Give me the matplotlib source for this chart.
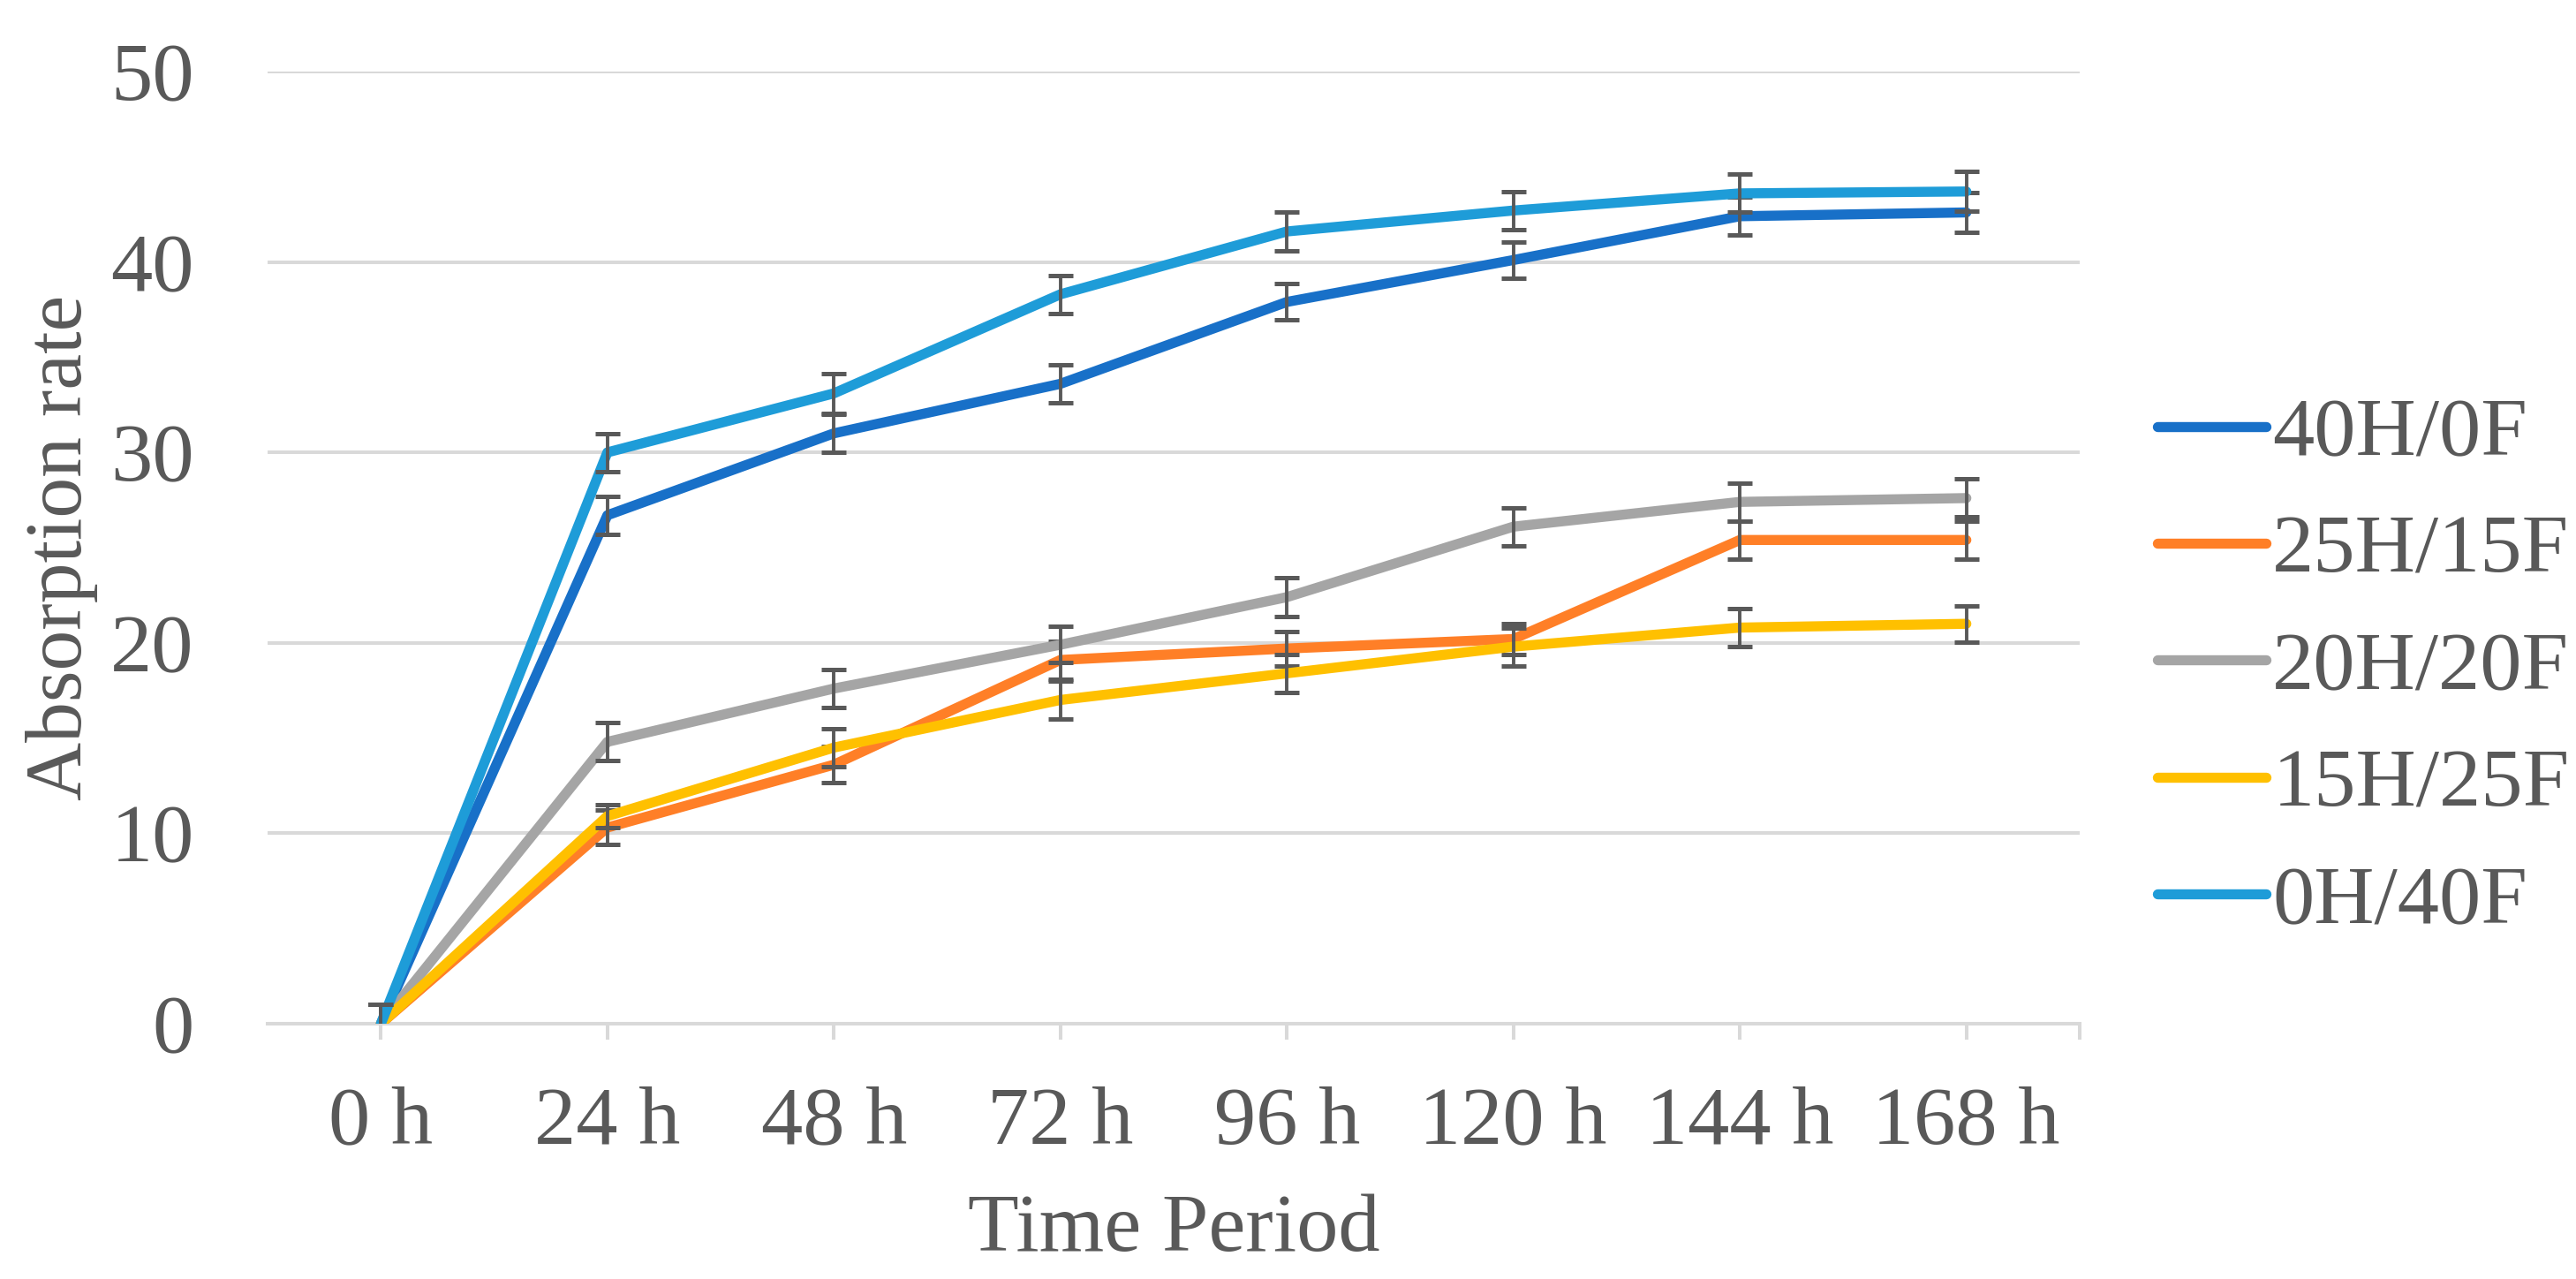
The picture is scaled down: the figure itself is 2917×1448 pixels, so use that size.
import numpy as np
import matplotlib
matplotlib.use("Agg")
import matplotlib.pyplot as plt

# time points and series
periods = ["0 h", "24 h", "48 h", "72 h", "96 h", "120 h", "144 h", "168 h"]

labels = ["40H/0F", "25H/15F", "20H/20F", "15H/25F", "0H/40F"]
colors = ["#1870C8", "#FF7F27", "#A5A5A5", "#FFC000", "#1E9CD8"]

h40_f0 = [0, 26.7, 31.0, 33.6, 37.9, 40.1, 42.4, 42.6]
h25_f15 = [0, 10.3, 13.6, 19.1, 19.7, 20.2, 25.4, 25.4]
h20_f20 = [0, 14.8, 17.6, 19.9, 22.4, 26.1, 27.4, 27.6]
h15_f25 = [0, 10.9, 14.5, 17.0, 18.4, 19.8, 20.8, 21.0]
h0_f40 = [0, 30.0, 33.1, 38.3, 41.6, 42.7, 43.6, 43.7]

err_h40_f0 = [1.0, 1.0, 1.0, 1.0, 0.95, 0.95, 1.0, 1.05]
err_h25_f15 = [1.0, 0.9, 0.95, 1.0, 0.9, 0.8, 1.0, 1.0]
err_h20_f20 = [1.0, 1.0, 1.0, 0.95, 1.0, 1.0, 1.0, 1.0]
err_h15_f25 = [1.0, 0.6, 1.0, 1.0, 1.0, 1.0, 1.0, 0.95]
err_h0_f40 = [1.0, 1.0, 1.05, 1.0, 1.0, 1.0, 1.0, 1.05]

series = [h40_f0, h25_f15, h20_f20, h15_f25, h0_f40]
errors = [err_h40_f0, err_h25_f15, err_h20_f20, err_h15_f25, err_h0_f40]

plt.rcParams["font.family"] = ["Liberation Serif", "DejaVu Serif"]
text_col = "#595959"
grid_col = "#D9D9D9"
fs = 34

fig = plt.figure(figsize=(14.585, 7.24), dpi=200)
ax = fig.add_axes([0.1039, 0.1996, 0.7034, 0.7445])

x = np.arange(len(periods))
for vals, err, lab, col in zip(series, errors, labels, colors):
    ax.plot(x, vals, color=col, lw=4.1, label=lab,
            solid_joinstyle="round", solid_capstyle="round", zorder=3)
    ax.errorbar(x, vals, yerr=err, fmt="none", ecolor=text_col,
                elinewidth=1.4, capsize=4.9, capthick=1.8, zorder=3)

ax.set_xlim(-0.5, len(periods) - 0.5)
ax.set_ylim(0, 50)
ax.set_yticks(range(0, 51, 10))
ax.set_xticks(x)
ax.set_xticklabels(periods)
ax.set_xticks([len(periods) - 0.5], minor=True)

ax.grid(axis="y", color=grid_col, lw=1.45, zorder=0)
ax.set_axisbelow(True)
for s in ["top", "right", "left"]:
    ax.spines[s].set_visible(False)
ax.spines["bottom"].set_color(grid_col)
ax.spines["bottom"].set_linewidth(1.45)

ax.tick_params(axis="y", length=0, pad=30, labelsize=fs, labelcolor=text_col)
ax.tick_params(axis="x", which="both", length=6.5, width=1.45, color=grid_col,
               direction="out", pad=19, labelsize=fs, labelcolor=text_col)

ax.set_xlabel("Time Period", fontsize=fs, color=text_col, labelpad=13)
ax.set_ylabel("Absorption rate", fontsize=33, color=text_col, labelpad=5)

leg = ax.legend(loc="center left", bbox_to_anchor=(0.8375, 0.477),
                bbox_transform=fig.transFigure, frameon=False, fontsize=fs,
                handlelength=1.3, handletextpad=0.08, labelspacing=0.49,
                borderpad=0, borderaxespad=0)
for t in leg.get_texts():
    t.set_color(text_col)

fig.savefig("out.png", dpi=200)
